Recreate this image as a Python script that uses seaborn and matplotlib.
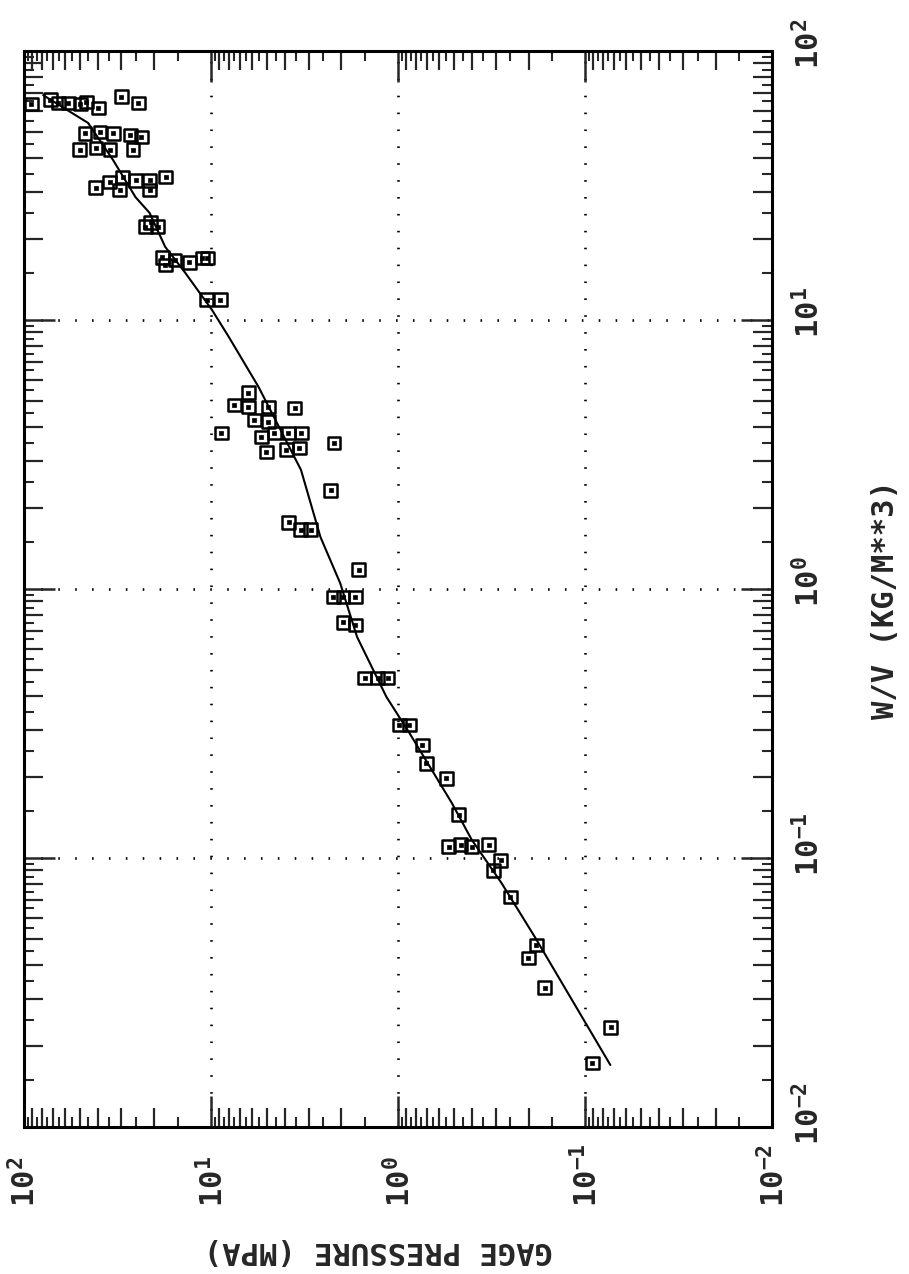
import numpy as np
import pandas as pd
import matplotlib
matplotlib.use("Agg")
import matplotlib.pyplot as plt
import matplotlib.ticker as mticker
import matplotlib.transforms as mtrans
import seaborn as sns

# ---------------- data ----------------
pressure_mpa = [
    91.0, 72.0, 65.2, 57.7, 49.8, 46.2, 39.9, 30.1, 24.4,
    46.9, 39.0, 33.2, 26.9, 23.5, 50.0, 41.0, 34.5, 26.0,
    41.1, 34.7, 29.5, 25.2, 21.2, 17.4, 30.6, 21.2,
    22.3, 19.2, 20.9,
    18.1, 15.5, 13.0, 11.1, 10.4, 17.5,
    10.5, 8.9,
    6.28, 7.47, 6.28, 4.91, 3.56, 5.85, 4.92, 8.79, 5.37, 4.58, 3.85, 3.28,
    2.19, 3.36, 5.05, 3.95,
    2.28, 3.83, 3.30, 2.92,
    1.62, 2.21, 1.96, 1.69, 1.96, 1.69,
    1.50, 1.28, 1.13,
    0.98, 0.867, 0.740, 0.704, 0.551,
    0.472, 0.535, 0.460, 0.403, 0.327, 0.282, 0.308,
    0.250, 0.182, 0.201, 0.164, 0.0729, 0.0912,
]
wv_kgm3 = [
    63.5, 65.8, 64.1, 64.1, 63.5, 64.6, 61.4, 67.5, 64.1,
    49.5, 50.0, 49.5, 48.7, 47.9, 42.9, 43.6, 42.9, 42.9,
    31.0, 32.6, 34.0, 33.1, 33.1, 34.0, 30.4, 30.4,
    22.2, 22.2, 23.1,
    17.1, 16.7, 16.4, 17.0, 17.0, 16.0,
    11.9, 11.9,
    5.36, 4.83, 4.75, 4.75, 4.71, 4.25, 4.18, 3.80, 3.67, 3.80, 3.80, 3.80,
    3.49, 3.34, 3.23, 3.29,
    2.33, 1.77, 1.66, 1.66,
    1.18, 0.933, 0.933, 0.933, 0.753, 0.735,
    0.467, 0.467, 0.467,
    0.312, 0.312, 0.263, 0.225, 0.198,
    0.145, 0.110, 0.112, 0.110, 0.112, 0.098, 0.090,
    0.0716, 0.0475, 0.0425, 0.0329, 0.0235, 0.0173,
]
fit_pressure = [78.5, 45.2, 33.3, 25.2, 21.2, 17.5, 13.7, 9.84, 8.0, 5.55,
                3.29, 2.59, 2.03, 1.65, 1.15, 0.868, 0.514, 0.403, 0.279,
                0.185, 0.0731]
fit_wv = [68.5, 54.0, 39.4, 28.6, 25.0, 18.7, 15.0, 10.9, 8.65, 5.64,
          2.77, 1.56, 1.05, 0.663, 0.397, 0.292, 0.160, 0.117, 0.0807,
          0.0508, 0.0170]

decade_values = [1e-2, 1e-1, 1e0, 1e1, 1e2]
decade_labels = [r"$10^{-2}$", r"$10^{-1}$", r"$10^{0}$", r"$10^{1}$", r"$10^{2}$"]
minor_subs = [2, 3, 4, 5, 6, 7, 8, 9]
half_subs = [1.5, 2.5, 3.5, 4.5, 5.5, 6.5, 7.5, 8.5, 9.5]
wv_label = "W/V (KG/M**3)"
pressure_label = "GAGE PRESSURE (MPA)"

# ---------------- style ----------------
sns.set_style("white")
plt.rcParams["font.family"] = ["DejaVu Sans Mono", "DejaVu Sans"]
plt.rcParams["font.weight"] = "bold"
plt.rcParams["mathtext.default"] = "regular"

fig = plt.figure(figsize=(9.09, 12.74), dpi=100)
ax = fig.add_axes([0.0259, 0.1154, 0.8234, 0.8446])

df = pd.DataFrame({"p": pressure_mpa, "w": wv_kgm3})
fit = pd.DataFrame({"p": fit_pressure, "w": fit_wv})

sns.lineplot(data=fit, x="p", y="w", sort=False, estimator=None,
             color="black", linewidth=1.5, ax=ax, zorder=3)
sns.scatterplot(data=df, x="p", y="w", marker="s", s=85,
                facecolor="none", edgecolor="black", linewidth=1.8,
                ax=ax, zorder=4)
sns.scatterplot(data=df, x="p", y="w", marker="s", s=5,
                color="black", edgecolor="black", linewidth=0.5,
                ax=ax, zorder=4)

ax.set_xscale("log")
ax.set_yscale("log")
ax.set_xlim(100, 0.01)
ax.set_ylim(0.01, 100)

for axis in (ax.xaxis, ax.yaxis):
    axis.set_major_locator(mticker.FixedLocator(decade_values))
    axis.set_minor_locator(mticker.LogLocator(base=10, subs=minor_subs, numticks=50))
    axis.set_major_formatter(mticker.NullFormatter())
    axis.set_minor_formatter(mticker.NullFormatter())

ax.tick_params(which="major", direction="in", length=22, width=1.8,
               top=True, bottom=True, left=True, right=True,
               labelbottom=False, labelleft=False, labeltop=False, labelright=False)
ax.tick_params(which="minor", direction="in", length=14, width=1.6,
               top=True, bottom=True, left=True, right=True)

# half-step ticks (shorter) on all four sides
for loc in ("top", "bottom"):
    sec = ax.secondary_xaxis(loc)
    sec.xaxis.set_major_locator(mticker.LogLocator(base=10, subs=half_subs, numticks=50))
    sec.xaxis.set_minor_locator(mticker.NullLocator())
    sec.tick_params(which="major", direction="in", length=7, width=1.5,
                    labelbottom=False, labeltop=False)
    sec.spines[loc].set_visible(False)
for loc in ("left", "right"):
    sec = ax.secondary_yaxis(loc)
    sec.yaxis.set_major_locator(mticker.LogLocator(base=10, subs=half_subs, numticks=50))
    sec.yaxis.set_minor_locator(mticker.NullLocator())
    sec.tick_params(which="major", direction="in", length=7, width=1.5,
                    labelleft=False, labelright=False)
    sec.spines[loc].set_visible(False)

ax.grid(which="major", color="black", linestyle=(0, (0.6, 5.8)), linewidth=1.9)
ax.grid(which="minor", visible=False)
for sp in ax.spines.values():
    sp.set_linewidth(2.2)
    sp.set_color("black")

# decade labels, rotated like the reference
bt = mtrans.blended_transform_factory(ax.transData, ax.transAxes)
for v, lab in zip(decade_values, decade_labels):
    ax.text(v, 0, lab,
            transform=bt + mtrans.ScaledTranslation(0.02, -0.80, fig.dpi_scale_trans),
            rotation=90, rotation_mode="anchor", ha="left", va="center",
            fontsize=22, fontweight="bold", clip_on=False)

rt = mtrans.blended_transform_factory(ax.transAxes, ax.transData)
for v, lab in zip(decade_values, decade_labels):
    ax.text(1, v, lab,
            transform=rt + mtrans.ScaledTranslation(0.21, -0.18, fig.dpi_scale_trans),
            rotation=90, rotation_mode="anchor", ha="left", va="top",
            fontsize=22, fontweight="bold", clip_on=False)

ax.set_xlabel(pressure_label, rotation=180, fontsize=22, fontweight="bold",
              ha="center", va="center")
ax.xaxis.set_label_coords(0.4736, -0.1152)
ax.yaxis.set_label_position("right")
ax.set_ylabel(wv_label, rotation=90, fontsize=22, fontweight="bold",
              ha="center", va="center")
ax.yaxis.set_label_coords(1.151, 0.49)

fig.savefig("out.png", dpi=100)
